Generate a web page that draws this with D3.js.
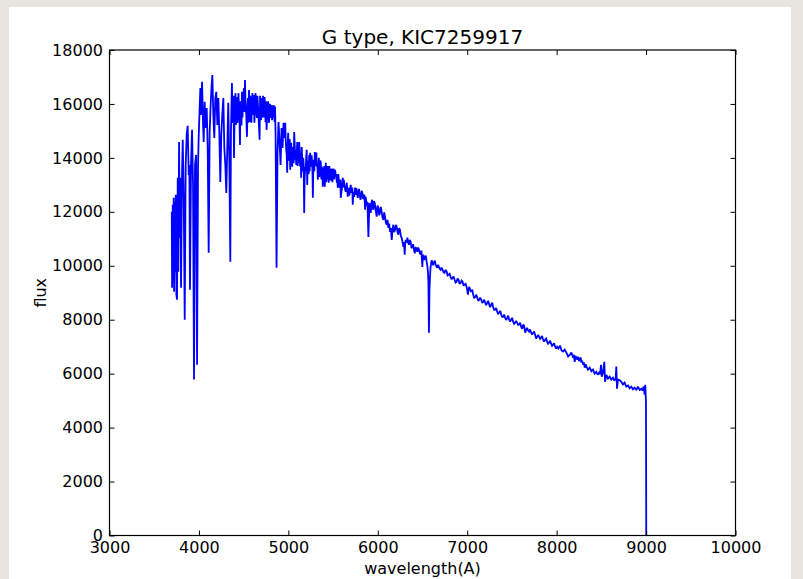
<!DOCTYPE html>
<html>
<head>
<meta charset="utf-8">
<script src="https://cdn.jsdelivr.net/npm/d3@7"></script>
<style>
  html, body { margin: 0; padding: 0; background: #e7e4df; }
  svg { display: block; }
  text { font-family: "DejaVu Sans", sans-serif; fill: #000; }
</style>
</head>
<body>
<svg id="chart" width="803" height="579"></svg>
<script>
// Labels
const chartTitle = "G type, KIC7259917";
const xLabel = "wavelength(A)";
const yLabel = "flux";

// Axis ticks
const xTicks = [3000, 4000, 5000, 6000, 7000, 8000, 9000, 10000];
const yTicks = [0, 2000, 4000, 6000, 8000, 10000, 12000, 14000, 16000, 18000];

// Spectrum: [wavelength (A), flux]
const spectrum = [
  [3696,12000],[3700,9190],[3707,12260],[3711,9410],[3718,12520],[3722,9040],[3729,12370],[3737,9780],
  [3741,12630],[3748,8930],[3755,8740],[3763,13260],[3770,9780],[3778,14590],[3785,11040],[3793,13260],
  [3800,9190],[3811,13370],[3819,14670],[3830,12520],[3841,8000],[3852,13740],[3863,14850],[3874,15190],
  [3886,13370],[3893,13740],[3900,9110],[3912,13850],[3923,15040],[3934,13000],[3945,5780],[3956,13740],
  [3968,14110],[3979,6330],[3990,13740],[3997,14740],[4008,15850],[4016,16590],[4027,15590],[4035,16820],
  [4046,15220],[4053,14590],[4064,16080],[4075,15110],[4087,15850],[4098,14370],[4109,10480],[4120,14960],
  [4131,15960],[4142,16700],[4150,17070],[4161,15590],[4172,14740],[4183,16220],[4194,16450],[4206,15220],
  [4217,16220],[4228,14960],[4239,13110],[4250,14850],[4261,15590],[4273,16220],[4284,14370],[4295,13740],
  [4306,12700],[4317,14370],[4328,16040],[4340,13850],[4351,10150],
  [4358,14960],[4363,15800],[4369,16780],[4375,15300],[4381,15590],[4387,16300],[4392,14000],[4398,15400],
  [4403,15960],[4409,16400],[4414,15220],[4420,15700],[4425,16260],[4430,15300],[4436,15590],[4442,16400],
  [4448,15850],[4453,15500],[4459,14480],[4464,16100],[4470,15590],[4476,15200],[4481,16450],[4487,15500],
  [4492,15960],[4498,16300],[4503,16590],[4509,15700],[4515,16890],[4520,16200],[4526,15850],[4531,15400],
  [4537,14780],[4542,15600],[4548,16220],[4553,15300],[4559,16520],[4565,16100],[4570,15330],[4576,16300],
  [4582,15850],[4587,15300],[4593,16080],[4598,16400],[4604,15590],[4609,15900],[4615,16330],[4620,15300],
  [4626,15700],[4632,16400],[4637,16220],[4643,15700],[4649,15480],[4654,16300],[4660,15960],[4665,15600],
  [4671,15220],[4678,14670],[4684,16300],[4689,15850],[4695,15400],[4701,16220],[4706,15500],[4712,15590],
  [4717,16300],[4723,15960],[4728,15500],[4734,16260],[4740,15900],[4745,15330],[4751,16100],[4756,15040],
  [4762,15500],[4768,15850],[4773,16100],[4779,15590],[4784,15300],[4790,15960],[4795,16000],[4801,15480],
  [4806,15800],[4812,15960],[4818,15400],[4823,15890],[4829,15500],[4835,15960],[4840,15800],[4846,15330],
  [4851,15900],[4857,14850],[4868,9930],[4879,14220],
  [4890,15330],[4902,14590],[4913,13740],[4924,15110],[4935,14370],[4946,15300],[4957,14740],
  [4965,15300],[4970,14700],[4976,14300],[4982,14100],[4987,13450],[4993,14500],[4998,14930],[5004,13900],
  [5010,14190],[5015,14700],[5021,13560],[5026,14200],[5032,14560],[5038,13900],[5043,13670],[5049,14400],
  [5054,14300],[5060,13800],[5065,14960],[5071,14500],[5077,13930],[5082,14300],[5088,13740],[5093,14100],
  [5099,14590],[5104,13700],[5110,14000],[5116,13800],[5121,14590],[5127,14200],[5132,13670],[5138,14000],
  [5143,13260],[5149,14400],[5155,13930],[5160,13500],[5166,14000],[5171,13800],[5177,11960],[5182,13200],
  [5188,13670],[5194,13500],[5199,14000],[5205,14300],[5211,13000],[5216,13900],[5222,13670],[5227,13400],
  [5233,14110],[5238,13500],[5244,14190],[5250,13900],[5255,13670],[5260,14100],[5266,13820],[5270,13400],
  [5274,12520],[5279,13600],[5285,13930],[5290,13500],[5296,14220],[5302,13700],[5307,14000],[5313,14200],
  [5318,13670],[5324,13800],[5330,13190],[5335,13700],[5341,14000],[5346,13300],[5352,13450],[5357,13900],
  [5363,13820],[5369,13200],[5374,13670],[5380,13600],[5385,12930],[5391,13300],[5397,13560],[5402,13700],
  [5408,12930],[5414,13400],[5419,13820],[5424,13100],[5430,13300],[5436,13700],[5441,13560],[5447,13300],
  [5452,13080],[5458,13700],[5464,13450],[5469,13200],[5475,13190],[5481,13600],[5486,13480],[5492,13100],
  [5497,13300],[5503,13600],[5508,13450],[5514,13200],[5519,13560],[5525,13500],[5531,13300],[5536,13400],
  [5542,13080],[5547,13200],[5553,12890],[5558,13400],[5564,13190],[5570,12900],[5575,13000],[5581,13200],
  [5586,12520],[5592,12700],[5598,12820],[5603,13100],[5609,13260],[5614,12900],[5620,13190],[5626,13000],
  [5631,12930],[5637,12800],[5642,12740],[5648,12900],[5653,13080],[5659,12800],[5664,12560],[5670,12700],
  [5676,12890],[5681,12600],[5687,12740],[5692,12900],[5698,13000],[5703,12700],[5709,12820],[5715,12900],
  [5720,12260],[5726,12600],[5731,12740],[5737,12550],[5743,12820],[5748,12900],[5754,12630],
  [5761,12880],[5769,12740],[5776,12520],[5784,12700],[5791,12850],[5798,12630],[5806,12450],[5813,12560],
  [5820,12780],[5828,12700],[5835,12480],[5843,12520],[5850,12640],[5858,12080],[5863,12560],[5869,12450],
  [5877,12230],[5884,12370],[5895,11070],[5906,12330],[5913,12150],[5921,11960],[5928,12290],[5936,12450],
  [5943,12150],[5951,12080],[5958,12400],[5966,12330],[5977,12050],
  [5988,11820],[5997,12230],[6007,12150],[6016,11870],[6025,11960],[6034,12180],[6044,12000],[6053,11780],
  [6063,11700],[6072,11980],[6081,11820],[6090,11600],[6100,11520],[6109,11700],[6118,11410],[6127,11560],
  [6137,11260],[6146,11400],[6156,10960],[6165,11350],[6174,11520],[6183,11250],[6193,11330],[6202,11520],
  [6212,11450],[6221,11240],[6230,11150],[6239,11400],[6249,11330],[6258,11100],[6267,11040],[6276,10900],
  [6286,10700],[6293,10880],[6301,10410],[6306,10780],[6312,10960],[6321,10860],[6331,11040],[6340,10850],
  [6349,10780],[6358,10960],[6368,10890],[6377,10650],[6386,10700],[6395,10800],[6405,10590],[6414,10460],
  [6424,10700],[6433,10600],[6442,10520],[6451,10680],[6461,10590],[6470,10480],[6479,10410],[6488,10560],
  [6498,9960],[6503,10300],[6509,10410],[6518,10220],[6528,10300],[6537,10380],[6546,10150],[6553,10020],
  [6561,9780],[6566,9400],[6572,7520],[6578,9100],[6584,9590],[6590,9950],[6595,10040],[6602,10200],
  [6610,10150],[6619,10020],[6628,10110],[6638,10190],[6647,10040],[6656,9970],[6665,9930],[6675,10040],
  [6684,9960],[6694,9880],[6703,9850],[6714,9930],[6725,9850],[6736,9760],[6747,9740],[6758,9850],
  [6770,9780],[6781,9640],[6792,9670],[6803,9700],[6814,9590],[6826,9500],[6837,9560],[6848,9600],
  [6859,9480],[6870,9380],[6881,9410],[6892,9530],[6904,9480],[6915,9330],[6926,9370],[6937,9450],
  [6948,9410],[6960,9260],[6971,9300],[6982,9330],[6993,9220],[7000,9100],[7008,8930],[7015,9120],
  [7023,9220],[7034,9100],
  [7045,9040],[7056,9110],[7067,8930],[7078,8800],[7090,8850],[7101,8930],[7112,8820],[7123,8700],
  [7134,8740],[7145,8820],[7157,8740],[7168,8620],[7179,8670],[7190,8740],[7201,8630],[7212,8540],
  [7224,8630],[7235,8700],[7246,8560],[7257,8470],[7268,8560],[7279,8630],[7291,8450],[7302,8360],
  [7313,8370],[7324,8440],[7335,8300],[7346,8220],[7358,8260],[7369,8330],[7380,8190],[7391,8110],
  [7402,8110],[7413,8190],[7424,8070],[7435,7990],[7447,8070],[7458,8150],[7469,8000],[7480,7930],
  [7491,8000],[7502,8070],[7514,7930],[7525,7850],[7536,7890],[7547,7960],[7558,7890],[7569,7810],
  [7581,7820],[7592,7890],[7603,7740],[7614,7660],[7625,7820],[7636,7780],[7648,7520],[7659,7630],
  [7670,7700],[7681,7600],[7692,7560],[7703,7640],[7715,7520],[7726,7450],[7737,7520],[7748,7560],
  [7759,7440],[7770,7300],[7782,7370],[7793,7440],[7804,7370],[7815,7290],[7826,7330],[7837,7400],
  [7849,7260],[7860,7190],[7871,7260],[7882,7300],[7893,7190],[7904,7110],[7916,7150],[7927,7220],
  [7938,7110],[7949,7030],[7960,7070],[7971,7130],[7983,7000],[7994,6930],[8005,7000],[8020,6930],
  [8038,7040],[8055,6860],
  [8072,6820],[8090,6890],[8109,6780],[8128,6640],[8147,6700],[8165,6780],[8184,6590],[8193,6700],
  [8202,6440],[8211,6660],[8221,6590],[8230,6520],[8240,6630],[8249,6470],[8258,6520],[8268,6600],
  [8277,6410],[8286,6480],[8296,6330],[8305,6420],[8314,6220],[8324,6350],[8333,6260],[8351,6150],
  [8370,6220],[8388,6090],[8407,6150],[8425,6000],[8444,6070],[8459,5960],[8474,6040],[8486,5980],
  [8496,6330],[8504,5890],[8518,6040],[8533,6440],[8541,5700],[8556,5960],[8574,5820],[8593,5890],
  [8611,5780],[8630,5850],[8645,5740],[8660,5820],[8667,6260],[8675,5440],[8686,5780],[8705,5760],
  [8723,5700],[8741,5600],[8760,5670],[8779,5520],[8798,5560],[8816,5460],[8835,5520],[8853,5420],
  [8872,5480],[8890,5390],[8909,5520],[8928,5400],[8947,5440],[8960,5380],[8973,5520],[8984,5220],
  [8991,5590],[8999,4930],[9002,0]
];

const W = 803, H = 579;
const plot = { left: 109.5, right: 735.5, top: 50, bottom: 535.5 };

const svg = d3.select("#chart");

// page and figure panel
svg.append("rect").attr("width", W).attr("height", H).attr("fill", "#e7e4df");
svg.append("rect").attr("x", 9).attr("y", 7).attr("width", 782).attr("height", H - 7).attr("fill", "#ffffff");

const x = d3.scaleLinear().domain([3000, 10000]).range([plot.left, plot.right]);
const y = d3.scaleLinear().domain([0, 18000]).range([plot.bottom, plot.top]);

// spectrum line
const line = d3.line().x(d => x(d[0])).y(d => y(d[1]));
svg.append("path")
  .datum(spectrum)
  .attr("d", line)
  .attr("fill", "none")
  .attr("stroke", "#0000ff")
  .attr("stroke-width", 1.8)
  .attr("stroke-linejoin", "miter")
  .attr("stroke-miterlimit", 2);

// axes with inward ticks on all four sides
const tickLen = 5;
function styleAxis(g) {
  g.select(".domain").remove();
  g.selectAll(".tick line").attr("stroke", "#000").attr("stroke-width", 1);
  g.selectAll(".tick text").style("font-size", "16px").style("font-family", "DejaVu Sans, sans-serif").attr("fill", "#000");
}

svg.append("g")
  .attr("transform", `translate(0,${plot.bottom})`)
  .call(d3.axisBottom(x).tickValues(xTicks).tickFormat(d3.format("d"))
    .tickSizeInner(-tickLen).tickSizeOuter(0).tickPadding(6))
  .call(styleAxis);

svg.append("g")
  .attr("transform", `translate(0,${plot.top})`)
  .call(d3.axisTop(x).tickValues(xTicks).tickFormat("")
    .tickSizeInner(-tickLen).tickSizeOuter(0))
  .call(styleAxis);

svg.append("g")
  .attr("transform", `translate(${plot.left},0)`)
  .call(d3.axisLeft(y).tickValues(yTicks).tickFormat(d3.format("d"))
    .tickSizeInner(-tickLen).tickSizeOuter(0).tickPadding(6.5))
  .call(styleAxis);

svg.append("g")
  .attr("transform", `translate(${plot.right},0)`)
  .call(d3.axisRight(y).tickValues(yTicks).tickFormat("")
    .tickSizeInner(-tickLen).tickSizeOuter(0))
  .call(styleAxis);

// frame
svg.append("rect")
  .attr("x", plot.left).attr("y", plot.top)
  .attr("width", plot.right - plot.left).attr("height", plot.bottom - plot.top)
  .attr("fill", "none").attr("stroke", "#000").attr("stroke-width", 1.2);

// title and axis labels
const cx = (plot.left + plot.right) / 2;
svg.append("text")
  .attr("x", cx).attr("y", 44)
  .attr("text-anchor", "middle")
  .style("font-size", "20px")
  .text(chartTitle);

svg.append("text")
  .attr("x", cx).attr("y", 574)
  .attr("text-anchor", "middle")
  .style("font-size", "16px")
  .text(xLabel);

svg.append("text")
  .attr("transform", `translate(46,${(plot.top + plot.bottom) / 2}) rotate(-90)`)
  .attr("text-anchor", "middle")
  .style("font-size", "16px")
  .text(yLabel);
</script>
</body>
</html>
